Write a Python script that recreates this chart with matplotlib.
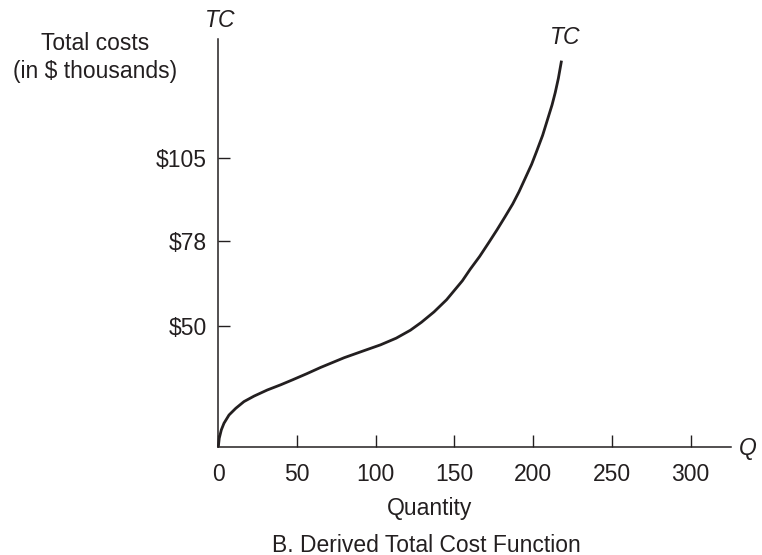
import matplotlib
matplotlib.use("Agg")
import matplotlib.pyplot as plt

# ---------------------------------------------------------------------------
# Data
# ---------------------------------------------------------------------------
quantity = [0, 0.6, 1.9, 3.6, 6.8, 11.1, 16.3, 22.7, 31.1, 39.6, 47, 56, 65,
            80, 92, 103, 113, 122, 129, 137, 145, 155, 160, 166, 172, 177,
            182, 187, 191, 195, 199, 202, 206, 209, 212, 214, 216, 218]
total_cost = [10.4, 13.2, 15.9, 18.1, 20.8, 23.0, 25.2, 27.0, 29.0, 30.7,
              32.3, 34.3, 36.4, 39.6, 41.8, 43.8, 46.0, 48.6, 51.2, 54.6,
              58.6, 64.8, 68.6, 72.8, 77.5, 81.5, 85.7, 90.0, 94.0, 98.5,
              103.0, 107.0, 112.5, 117.5, 122.5, 126.5, 131.2, 137.0]

x_ticks = [0, 50, 100, 150, 200, 250, 300]
y_ticks = [50, 78, 105]
y_tick_labels = ["$50", "$78", "$105"]

INK = "#231f20"
FS = 16.5
plt.rcParams["font.family"] = ["Liberation Sans", "DejaVu Sans"]

# ---------------------------------------------------------------------------
# Figure layout
# ---------------------------------------------------------------------------
fig = plt.figure(figsize=(7.62, 5.55), dpi=100)
ax = fig.add_axes([0.2865, 0.1951, 0.959 - 0.2865, 0.9292 - 0.1951])

ax.plot(quantity, total_cost, color=INK, linewidth=2.0,
        solid_capstyle="butt", solid_joinstyle="round", clip_on=False)

ax.set_xlim(0, 325.5)
ax.set_ylim(10.4, 144)

for side in ("top", "right"):
    ax.spines[side].set_visible(False)
for side in ("left", "bottom"):
    ax.spines[side].set_color(INK)
    ax.spines[side].set_linewidth(1.1)

ax.set_xticks(x_ticks)
ax.set_yticks(y_ticks)
ax.set_yticklabels(y_tick_labels)
ax.tick_params(axis="both", direction="in", length=8.5, width=1.0,
               color=INK, labelcolor=INK, labelsize=FS)
ax.tick_params(axis="x", pad=11.5)
ax.tick_params(axis="y", pad=8)

# Axis titles and labels (placed in figure pixels / size)
W, H = 762.0, 555.0
txt = dict(color=INK, fontsize=FS, ha="center", va="center")
fig.text(95 / W, 1 - 43.3 / H, "Total costs", **txt)
fig.text(95 / W, 1 - 71.7 / H, "(in $ thousands)", **txt)
fig.text(220 / W, 1 - 20.7 / H, "TC", style="italic", **txt)
fig.text(565 / W, 1 - 38 / H, "TC", style="italic", **txt)
fig.text(748 / W, 1 - 449 / H, "Q", style="italic", **txt)
fig.text(430 / W, 1 - 508.3 / H, "Quantity", **txt)
fig.text(426 / W, 1 - 545 / H, "B. Derived Total Cost Function", **txt)

fig.savefig("out.png", dpi=100)
